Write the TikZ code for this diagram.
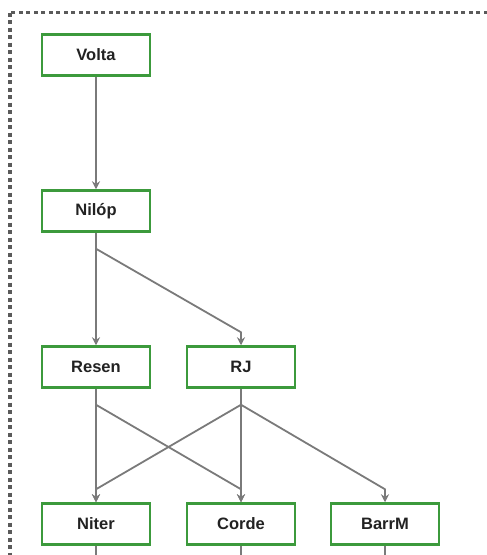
\documentclass[tikz,border=0pt]{standalone}
\usepackage{fontspec}
\setsansfont{Liberation Sans}
\usetikzlibrary{calc,arrows.meta}
\definecolor{boxgreen}{HTML}{3C9A3C}
\definecolor{linkgray}{HTML}{7A7A7A}
\definecolor{framegray}{HTML}{5A5A5A}
\definecolor{ink}{HTML}{222222}
\tikzset{
  frame/.style={draw=framegray, line width=3.5pt, dash pattern=on 4pt off 3.5pt},
  unit/.style={draw=boxgreen, line width=2.5pt, fill=white, minimum width=108pt,
    minimum height=41pt, inner sep=0pt, text=ink,
    font=\sffamily\bfseries\fontsize{16.5}{18}\selectfont},
  link/.style={draw=linkgray, line width=1.8pt, line join=round,
    -{Stealth[length=8pt,width=8pt]}},
  tail/.style={draw=linkgray, line width=1.8pt},
}
\begin{document}
\begin{tikzpicture}[x=1pt,y=-1pt]
  \useasboundingbox (0,0) rectangle (487,555);
  \clip (0,0) rectangle (487,555);
  \draw[frame] (10,12.5) rectangle (520,600);

  % rows and columns
  \node[unit] (volta) at (96,55) {Volta};
  \node[unit] (nilop) at (96,211) {Nilóp};
  \node[unit] (resen) at (96,367) {Resen};
  \node[unit] (rj)    at (241,367) {RJ};
  \node[unit] (niter) at (96,524) {Niter};
  \node[unit] (corde) at (241,524) {Corde};
  \node[unit] (barrm) at (385,524) {BarrM};

  \draw[link] (volta) -- (nilop);
  \draw[link] (nilop) -- (resen);
  \draw[link] ($(nilop.south)+(0,16)$) -- ($(rj.north)+(0,-13)$) -- (rj.north);
  \draw[link] (resen) -- (niter);
  \draw[link] ($(resen.south)+(0,16)$) -- ($(corde.north)+(0,-13)$) -- (corde.north);
  \draw[link] (rj) -- (corde);
  \draw[link] ($(rj.south)+(0,16)$) -- ($(niter.north)+(0,-13)$) -- (niter.north);
  \draw[link] ($(rj.south)+(0,16)$) -- ($(barrm.north)+(0,-13)$) -- (barrm.north);

  \foreach \n in {niter,corde,barrm}
    \draw[tail] (\n.south) -- ++(0,20);
\end{tikzpicture}
\end{document}
